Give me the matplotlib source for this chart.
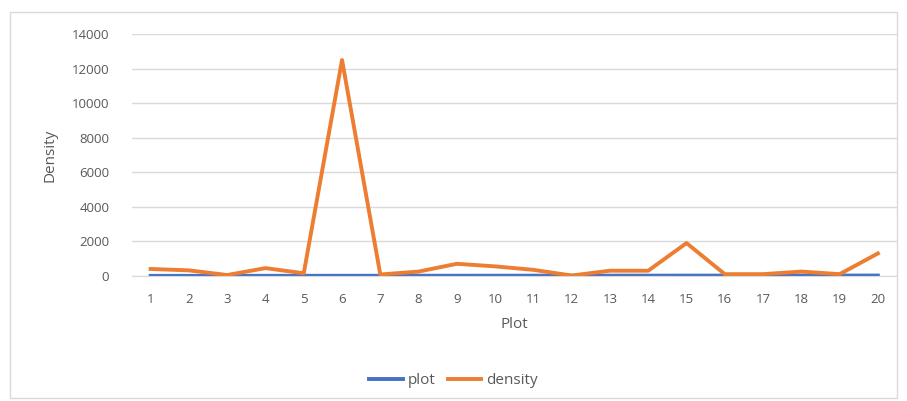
import matplotlib
matplotlib.use('Agg')
import matplotlib.pyplot as plt
from matplotlib.patches import Rectangle

plt.rcParams['font.family'] = ['Open Sans', 'DejaVu Sans']

# data
plots = list(range(1, 21))
plot_series = list(range(1, 21))
density = [400, 320, 50, 450, 150, 12500, 80, 250, 700, 550,
           350, 20, 300, 300, 1900, 100, 100, 250, 100, 1300]

text_col = '#595959'

fig = plt.figure(figsize=(9.07, 4.01), dpi=100)
fig.patches.append(Rectangle((0.011, 0.007), 0.978, 0.963, transform=fig.transFigure,
                             fill=False, edgecolor='#d9d9d9', linewidth=1))
ax = fig.add_axes([0.145, 0.312, 0.844, 0.603])

ax.plot(plots, plot_series, color='#4472C4', linewidth=2.8, label='plot')
ax.plot(plots, density, color='#ED7D31', linewidth=2.8, label='density')

ax.set_xlim(0.5, 20.5)
ax.set_ylim(0, 14000)
ax.set_yticks(range(0, 14001, 2000))
ax.set_xticks(plots)
ax.grid(axis='y', color='#d9d9d9', linewidth=1)
ax.set_axisbelow(True)
for s in ['top', 'right', 'left']:
    ax.spines[s].set_visible(False)
ax.spines['bottom'].set_color('#d9d9d9')
ax.tick_params(length=0, colors=text_col, labelsize=9.5)
ax.tick_params(axis='y', pad=16)
ax.tick_params(axis='x', pad=12)
ax.set_ylabel('Density', color=text_col, fontsize=11, labelpad=10)
ax.set_xlabel('Plot', color=text_col, fontsize=11, labelpad=8)

fig.legend(loc='center', bbox_to_anchor=(0.5, 0.05), ncol=2, frameon=False,
           fontsize=11, labelcolor=text_col, handlelength=2.2, columnspacing=0.8,
           handletextpad=0.3)

fig.savefig('out.png', dpi=100)
